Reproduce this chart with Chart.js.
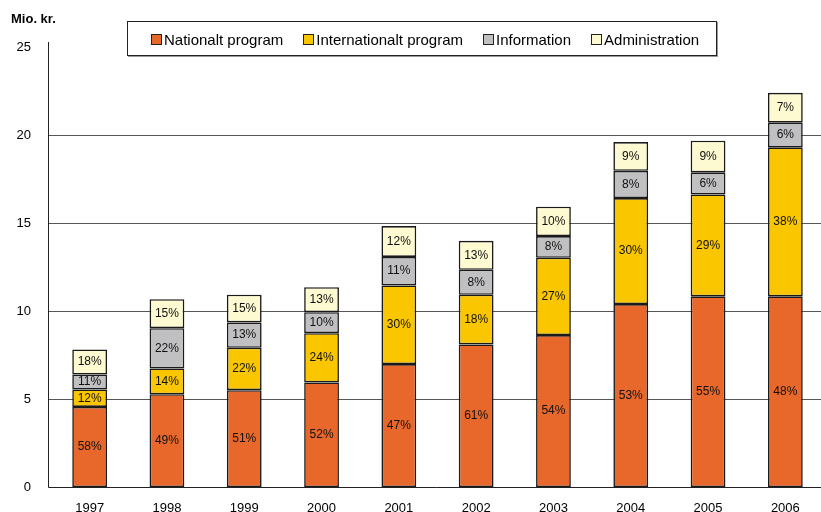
<!DOCTYPE html>
<html>
<head>
<meta charset="utf-8">
<script src="https://cdn.jsdelivr.net/npm/chart.js@4/dist/chart.umd.min.js"></script>
<style>
  html, body { margin: 0; padding: 0; background: #fff; overflow: hidden; }
  body { width: 821px; height: 512px; position: relative; font-family: "Liberation Sans", Arial, sans-serif; }
  #wrap { position: absolute; left: 0; top: 0; width: 824px; height: 515px; }
  #unit { position: absolute; left: 11px; top: 11px; font-size: 13px; font-weight: bold; color: #000; }
  #legend {
    position: absolute; left: 127px; top: 21px; width: 565px; height: 32px;
    border: 1px solid #222; box-shadow: 1px 1px 0 #999; background: #fff;
    display: flex; align-items: center; padding-left: 23px; box-sizing: content-box;
    font-size: 15px; color: #000; padding-top: 1px; white-space: nowrap;
  }
  #legend .item { display: flex; align-items: center; margin-right: 20px; flex-shrink: 0; }
  #legend .box { width: 9px; height: 9px; border: 1px solid #222; margin-right: 2px; flex-shrink: 0; }
</style>
</head>
<body>
<div id="wrap"><canvas id="chart" width="824" height="515"></canvas></div>
<div id="unit">Mio. kr.</div>
<div id="legend"></div>
<script>
// Data (Mio. kr.)
var years = ['1997', '1998', '1999', '2000', '2001', '2002', '2003', '2004', '2005', '2006'];
var nationalt = [4.56, 5.28, 5.51, 5.95, 6.99, 8.11, 8.64, 10.40, 10.84, 10.84];
var internationalt = [0.99, 1.46, 2.41, 2.80, 4.47, 2.82, 4.39, 6.02, 5.79, 8.46];
var information = [0.85, 2.29, 1.44, 1.19, 1.62, 1.42, 1.23, 1.55, 1.25, 1.40];
var administration = [1.42, 1.65, 1.57, 1.42, 1.75, 1.64, 1.67, 1.63, 1.80, 1.70];

// Percentage labels as printed on the bars
var pctNationalt = [58, 49, 51, 52, 47, 61, 54, 53, 55, 48];
var pctInternationalt = [12, 14, 22, 24, 30, 18, 27, 30, 29, 38];
var pctInformation = [11, 22, 13, 10, 11, 8, 8, 8, 6, 6];
var pctAdministration = [18, 15, 15, 13, 12, 13, 10, 9, 9, 7];

var yTicks = [0, 5, 10, 15, 20, 25];

var seriesNames = ['Nationalt program', 'Internationalt program', 'Information', 'Administration'];
var seriesColors = ['#E8672B', '#F9C600', '#C0C0C2', '#FDF9D0'];

var FONT = '"Liberation Sans", Arial, sans-serif';

// html legend
var legend = document.getElementById('legend');
seriesNames.forEach(function(name, i) {
    var item = document.createElement('div');
    item.className = 'item';
    var box = document.createElement('span');
    box.className = 'box';
    box.style.background = seriesColors[i];
    var txt = document.createElement('span');
    txt.textContent = name;
    item.appendChild(box);
    item.appendChild(txt);
    legend.appendChild(item);
});

// grid lines + axis lines, starting at the axis (x = 48)
var axisPlugin = {
    id: 'axisLines',
    beforeDatasetsDraw: function(chart) {
        var ctx = chart.ctx;
        var y = chart.scales.y;
        var axisX = 48;
        ctx.save();
        ctx.lineWidth = 1;
        ctx.strokeStyle = '#555';
        yTicks.forEach(function(v) {
            if (v === 0 || v === 25) return;
            var py = Math.round(y.getPixelForValue(v)) + 0.5;
            ctx.beginPath();
            ctx.moveTo(axisX, py);
            ctx.lineTo(chart.width, py);
            ctx.stroke();
        });
        ctx.restore();
    },
    afterDatasetsDraw: function(chart) {
        var ctx = chart.ctx;
        var y = chart.scales.y;
        var axisX = 48.5;
        var zero = Math.round(y.getPixelForValue(0)) + 0.5;
        ctx.save();
        ctx.lineWidth = 1;
        ctx.strokeStyle = '#222';
        ctx.beginPath();
        ctx.moveTo(axisX, y.getPixelForValue(25) - 5);
        ctx.lineTo(axisX, zero);
        ctx.lineTo(chart.width, zero);
        ctx.stroke();

        // percentage labels in the middle of each segment
        var pcts = [pctNationalt, pctInternationalt, pctInformation, pctAdministration];
        ctx.fillStyle = '#111';
        ctx.font = '12px ' + FONT;
        ctx.textAlign = 'center';
        ctx.textBaseline = 'middle';
        chart.data.datasets.forEach(function(ds, d) {
            chart.getDatasetMeta(d).data.forEach(function(bar, i) {
                var cy = (bar.y + bar.base) / 2;
                ctx.fillText(pcts[d][i] + '%', bar.x, cy);
            });
        });
        ctx.restore();
    }
};

function makeSet(label, values, color) {
    return {
        label: label,
        data: values,
        backgroundColor: color,
        borderColor: '#1a1a1a',
        borderWidth: 1.6,
        borderSkipped: false,
        barPercentage: 0.45,
        categoryPercentage: 1.0
    };
}

new Chart(document.getElementById('chart').getContext('2d'), {
    type: 'bar',
    data: {
        labels: years,
        datasets: [
            makeSet(seriesNames[0], nationalt, seriesColors[0]),
            makeSet(seriesNames[1], internationalt, seriesColors[1]),
            makeSet(seriesNames[2], information, seriesColors[2]),
            makeSet(seriesNames[3], administration, seriesColors[3])
        ]
    },
    options: {
        responsive: false,
        animation: false,
        devicePixelRatio: 1,
        layout: { padding: { top: 47, left: 0, right: 0, bottom: 0 } },
        plugins: {
            legend: { display: false },
            tooltip: { enabled: false }
        },
        scales: {
            x: {
                stacked: true,
                grid: { display: false, drawTicks: false },
                border: { display: false },
                ticks: { color: '#000', font: { family: FONT, size: 13 }, padding: 13, maxRotation: 0 },
                afterFit: function(scale) { scale.height = 25; }
            },
            y: {
                stacked: true,
                min: 0,
                max: 25,
                grid: { display: false, drawTicks: false },
                border: { display: false },
                ticks: { stepSize: 5, color: '#000', font: { family: FONT, size: 13 }, padding: 20 },
                afterFit: function(scale) { scale.width = 51; }
            }
        }
    },
    plugins: [axisPlugin]
});
</script>
</body>
</html>
